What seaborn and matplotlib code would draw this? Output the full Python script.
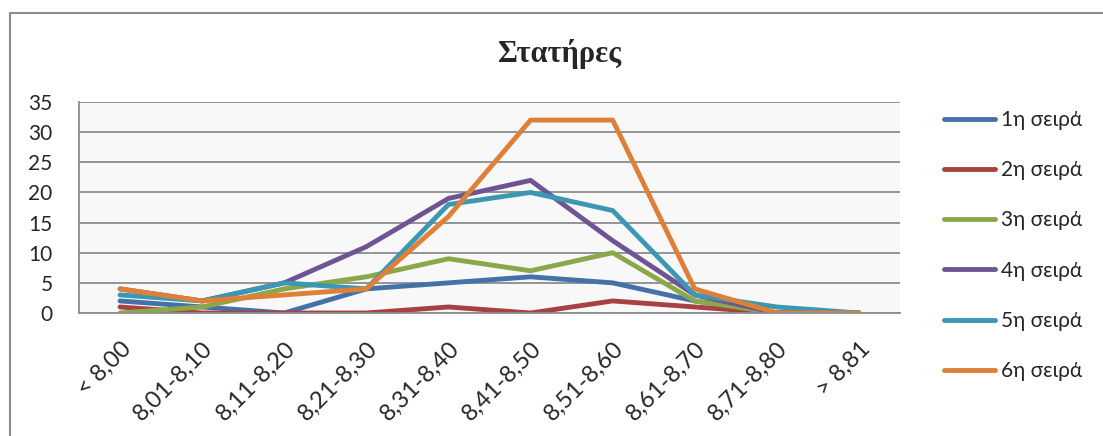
import pandas as pd
import numpy as np
import seaborn as sns
import matplotlib.pyplot as plt
import matplotlib.transforms as mtransforms
from matplotlib.patches import Rectangle

categories = ["< 8,00", "8,01-8,10", "8,11-8,20", "8,21-8,30", "8,31-8,40",
              "8,41-8,50", "8,51-8,60", "8,61-8,70", "8,71-8,80", "> 8,81"]
series_names = ["1η σειρά", "2η σειρά", "3η σειρά", "4η σειρά", "5η σειρά", "6η σειρά"]
s1 = [2, 1, 0, 4, 5, 6, 5, 2, 0, 0]
s2 = [1, 0, 0, 0, 1, 0, 2, 1, 0, 0]
s3 = [0, 1, 4, 6, 9, 7, 10, 2, 0, 0]
s4 = [4, 2, 5, 11, 19, 22, 12, 3, 0, 0]
s5 = [3, 2, 5, 4, 18, 20, 17, 3, 1, 0]
s6 = [4, 2, 3, 4, 16, 32, 32, 4, 0, 0]
colors = ["#4472A8", "#A84242", "#8AA84A", "#6E5492", "#3C98B2", "#DE8038"]

rows = []
for name, vals in zip(series_names, [s1, s2, s3, s4, s5, s6]):
    for c, v in zip(categories, vals):
        rows.append({"Κατηγορία": c, "Πλήθος": v, "Σειρά": name})
df = pd.DataFrame(rows)

sns.set_style("white")
plt.rcParams['font.family'] = ['Lato', 'Open Sans', 'DejaVu Sans']

fig = plt.figure(figsize=(11.03, 4.36), dpi=100)
ax = fig.add_axes([79/1103, 1 - 313/436, (900 - 79)/1103, (313 - 102)/436])
ax.set_facecolor("#f8f8f8")

sns.lineplot(data=df, x="Κατηγορία", y="Πλήθος", hue="Σειρά", palette=colors,
             sort=False, linewidth=3.5, ax=ax, legend=False)
for line in ax.lines:
    line.set_solid_joinstyle("round")
    line.set_solid_capstyle("round")

ax.set_xlim(-0.5, 9.5)
ax.set_ylim(0, 35)
ax.set_yticks(range(0, 36, 5))
ax.yaxis.grid(True, color="#8c8c8c", linewidth=1.3)
ax.set_axisbelow(True)
for side in ["top", "right"]:
    ax.spines[side].set_visible(False)
for side in ["left", "bottom"]:
    ax.spines[side].set_color("#8c8c8c")
    ax.spines[side].set_linewidth(1.3)

ax.set_xticks(np.arange(10))
ax.set_xticklabels(categories, rotation=45, ha="right", rotation_mode="anchor", fontsize=17)
shift = mtransforms.ScaledTranslation(5/100, 0, fig.dpi_scale_trans)
for lab in ax.get_xticklabels():
    lab.set_transform(lab.get_transform() + shift)
ax.set_xticks(np.arange(-0.5, 10, 1), minor=True)
ax.tick_params(axis="x", which="major", length=0, pad=18)
ax.tick_params(axis="x", which="minor", length=5, color="#8c8c8c", width=1.3)
ax.tick_params(axis="y", length=6, color="#8c8c8c", width=1.3, labelsize=15, pad=13)
ax.set_xlabel("")
ax.set_ylabel("")

fig.text(560/1103, 1 - 54/436, "Στατήρες", ha="center", va="center",
         fontsize=22, fontweight="bold", family=["Liberation Serif", "DejaVu Serif"])

handles = [plt.Line2D([], [], color=c, linewidth=3.5, solid_capstyle="round") for c in colors]
fig.legend(handles, series_names, loc="upper left", bbox_to_anchor=(944/1103, 1 - 110/436),
           frameon=False, fontsize=15, handlelength=2.45, handletextpad=0.3,
           labelspacing=1.45, borderaxespad=0, borderpad=0)

fig.patches.append(Rectangle((10/1103, -0.1), 1.2, 1 - 13/436 + 0.1, transform=fig.transFigure,
                             fill=False, edgecolor="#8c8c8c", linewidth=1.5))

fig.savefig("out.png", dpi=100)
